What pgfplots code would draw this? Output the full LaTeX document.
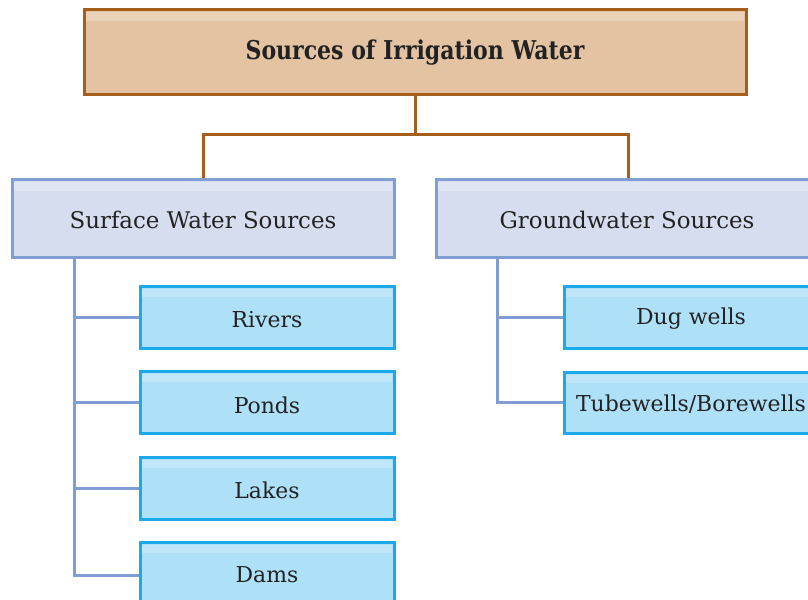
\documentclass[border=0pt]{standalone}
\usepackage{fontspec}
\setmainfont{DejaVu Serif}
\usepackage{pgfplots}
\pgfplotsset{compat=1.18}
\definecolor{titlefill}{HTML}{E3C3A2}
\definecolor{titledraw}{HTML}{A65F1B}
\definecolor{midfill}{HTML}{D5DDEF}
\definecolor{middraw}{HTML}{7F9FD4}
\definecolor{childfill}{HTML}{AEE0F8}
\definecolor{childdraw}{HTML}{1BA9E9}
\definecolor{txt}{HTML}{222222}
\begin{document}
\begin{tikzpicture}
\begin{axis}[width=808bp,height=600bp,scale only axis,
  xmin=0,xmax=808,ymin=0,ymax=600,y dir=reverse,hide axis,clip=false]
% connectors
\addplot[titledraw,line width=3bp] coordinates {(415,95)(415,135)};
\addplot[titledraw,line width=3bp] coordinates {(203,180)(203,135)(628,135)(628,180)};
\addplot[middraw,line width=3bp] coordinates {(74,258)(74,576)(140,576)};
\addplot[middraw,line width=3bp] coordinates {(74,318)(140,318)};
\addplot[middraw,line width=3bp] coordinates {(74,403)(140,403)};
\addplot[middraw,line width=3bp] coordinates {(74,489)(140,489)};
\addplot[middraw,line width=3bp] coordinates {(497,258)(497,403)(564,403)};
\addplot[middraw,line width=3bp] coordinates {(497,318)(564,318)};
% boxes
\addplot[draw=titledraw,fill=titlefill,line width=3bp] coordinates {(84,10)(746,10)(746,95)(84,95)} -- cycle;
\addplot[draw=none,fill=white,fill opacity=0.25] coordinates {(86,12)(744,12)(744,21)(86,21)} -- cycle;
\addplot[draw=middraw,fill=midfill,line width=3bp] coordinates {(12,180)(394,180)(394,258)(12,258)} -- cycle;
\addplot[draw=none,fill=white,fill opacity=0.25] coordinates {(14,182)(392,182)(392,191)(14,191)} -- cycle;
\addplot[draw=middraw,fill=midfill,line width=3bp] coordinates {(436,180)(818,180)(818,258)(436,258)} -- cycle;
\addplot[draw=none,fill=white,fill opacity=0.25] coordinates {(438,182)(816,182)(816,191)(438,191)} -- cycle;
\addplot[draw=childdraw,fill=childfill,line width=3bp] coordinates {(140,287)(394,287)(394,349)(140,349)} -- cycle;
\addplot[draw=none,fill=white,fill opacity=0.22] coordinates {(142,289)(392,289)(392,297)(142,297)} -- cycle;
\addplot[draw=childdraw,fill=childfill,line width=3bp] coordinates {(140,372)(394,372)(394,434)(140,434)} -- cycle;
\addplot[draw=none,fill=white,fill opacity=0.22] coordinates {(142,374)(392,374)(392,382)(142,382)} -- cycle;
\addplot[draw=childdraw,fill=childfill,line width=3bp] coordinates {(140,458)(394,458)(394,520)(140,520)} -- cycle;
\addplot[draw=none,fill=white,fill opacity=0.22] coordinates {(142,460)(392,460)(392,468)(142,468)} -- cycle;
\addplot[draw=childdraw,fill=childfill,line width=3bp] coordinates {(140,543)(394,543)(394,605)(140,605)} -- cycle;
\addplot[draw=none,fill=white,fill opacity=0.22] coordinates {(142,545)(392,545)(392,553)(142,553)} -- cycle;
\addplot[draw=childdraw,fill=childfill,line width=3bp] coordinates {(564,287)(818,287)(818,349)(564,349)} -- cycle;
\addplot[draw=none,fill=white,fill opacity=0.22] coordinates {(566,289)(816,289)(816,297)(566,297)} -- cycle;
\addplot[draw=childdraw,fill=childfill,line width=3bp] coordinates {(564,373)(818,373)(818,434)(564,434)} -- cycle;
\addplot[draw=none,fill=white,fill opacity=0.22] coordinates {(566,375)(816,375)(816,383)(566,383)} -- cycle;
% texts
\node[txt,font=\fontsize{26}{30}\selectfont\bfseries,xscale=0.85] at (axis cs:415,53) {Sources of Irrigation Water};
\node[txt,font=\fontsize{23}{27}\selectfont] at (axis cs:203,220) {Surface Water Sources};
\node[txt,font=\fontsize{23}{27}\selectfont] at (axis cs:627,220) {Groundwater Sources};
\node[txt,font=\fontsize{22}{26}\selectfont] at (axis cs:267,320) {Rivers};
\node[txt,font=\fontsize{22}{26}\selectfont] at (axis cs:267,405) {Ponds};
\node[txt,font=\fontsize{22}{26}\selectfont] at (axis cs:267,490) {Lakes};
\node[txt,font=\fontsize{22}{26}\selectfont] at (axis cs:267,575) {Dams};
\node[txt,font=\fontsize{22}{26}\selectfont] at (axis cs:691,319) {Dug wells};
\node[txt,font=\fontsize{22}{26}\selectfont] at (axis cs:691,404) {Tubewells/Borewells};
\end{axis}
\pgfresetboundingbox
\path (current axis.south west) rectangle (current axis.north east);
\end{tikzpicture}
\end{document}
